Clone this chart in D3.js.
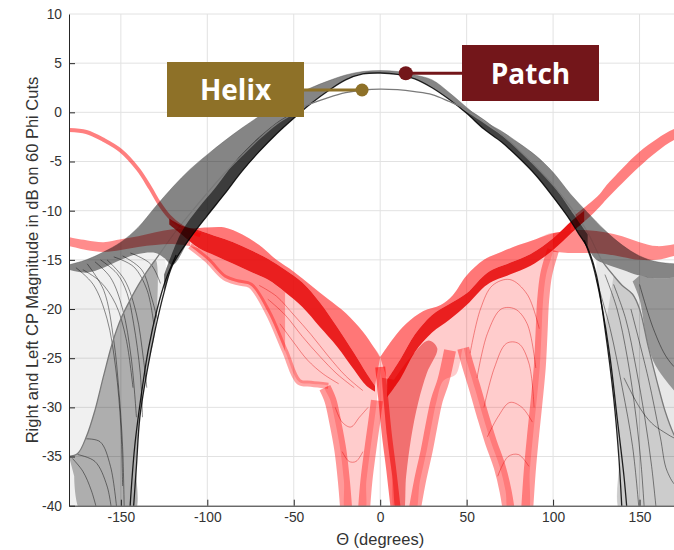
<!DOCTYPE html>
<html>
<head>
<meta charset="utf-8">
<script src="https://cdn.jsdelivr.net/npm/d3@7"></script>
<style>
  body { margin: 0; background: #fff; }
  svg { display: block; font-family: "Liberation Sans", Arial, sans-serif; }
</style>
</head>
<body>
<svg id="chart" width="674" height="550"></svg>
<script>
// ---------- axis ticks ----------
const thetaTicks = [-150, -100, -50, 0, 50, 100, 150];
const dbTicks = [-40, -35, -30, -25, -20, -15, -10, -5, 0, 5, 10];

// ---------- RHCP cuts: patch antenna ([theta deg, dB]) ----------
const patchWide = [[-180,-15.5],[-170,-15.0],[-160,-14.2],[-150,-13.2],[-140,-11.7],[-130,-9.6],[-120,-7.6],[-110,-5.8],[-100,-4.3],[-90,-2.9],[-80,-1.6],[-70,-0.4],[-60,0.8],[-50,1.7],[-40,2.5],[-30,3.2],[-20,3.8],[-10,4.15],[0,4.25],[10,4.15],[20,3.8],[30,3.3],[40,2.0],[50,0.5],[60,-0.9],[70,-1.9],[80,-3.1],[90,-4.4],[100,-6.1],[110,-8.3],[120,-10.2],[130,-12.0],[140,-13.5],[150,-14.6],[160,-15.2],[170,-15.4],[180,-15.5]];
const patchNarrow = [[-143,-41],[-141,-36],[-139,-31],[-135,-26.5],[-130,-22],[-125,-18.3],[-120,-15.5],[-110,-12.8],[-100,-10.5],[-90,-8.3],[-80,-6.0],[-70,-4.0],[-60,-2.2],[-50,-0.6],[-40,0.9],[-30,2.2],[-20,3.3],[-10,3.9],[0,4.0],[10,3.85],[20,3.4],[30,2.5],[40,1.3],[50,-0.1],[60,-1.7],[70,-3.0],[80,-4.6],[90,-6.4],[100,-8.6],[110,-11.0],[115,-12.4],[120,-13.8],[125,-16.5],[130,-22],[135,-29],[138,-35],[140,-41]];
const patchInnerLeft = [[-180,-16.0],[-170,-16.3],[-160,-15.8],[-150,-15.0],[-140,-14.4],[-130,-14.3],[-125,-14.8]];
const patchInnerRight = [[125,-15.0],[130,-15.4],[140,-16.0],[150,-16.6],[160,-16.9],[170,-16.8],[180,-16.5]];
const patchDenseLeft = [[-125,-16.5],[-115,-12.2],[-105,-9.7],[-95,-7.6],[-82,-4.6],[-66,-1.9],[-55,-0.5],[-45,0.2]];
const patchDenseRight = [[45,0.6],[60,-1.1],[75,-3.0],[92,-5.9],[100,-7.4],[110,-9.9],[120,-12.4]];
const patchShadeRight = [[146,-17.2],[150,-19],[154,-23],[158,-25.3],[164,-27],[170,-28.3],[176,-29.3],[180,-29.8]];
const patchNullLeft = [[-118,-14.5],[-124,-17],[-129,-20],[-134,-24],[-138,-28.5],[-142,-34],[-145,-41]];
const patchNullRight = [[118,-13.0],[123,-15.5],[128,-19.5],[133,-25],[137,-31],[141,-37],[143,-41]];
const patchArcs = [
  [[-161.8,-15.0],[-152.2,-16.4],[-146.4,-18.4],[-142.6,-21.5],[-138.8,-26.5],[-137.5,-31]],
  [[-154.1,-14.7],[-142.6,-15.7],[-134.8,-18.1],[-131,-21.5]],
  [[-144.5,-14.3],[-132.9,-15.4],[-127.1,-17.4]],
  [[-149,-14.6],[-138,-16],[-132,-19],[-129,-21]],
  [[-158,-15.0],[-148,-17],[-141,-20.5],[-137,-25],[-135,-28]],
  [[-165,-15.2],[-156,-16.8],[-149,-20],[-144,-25],[-141,-31]],
  [[-169.5,-15.4],[-159.9,-18.1],[-154.1,-23.2],[-151.2,-28.2],[-149,-34],[-148,-41]],
  [[-176,-15.8],[-166,-17.5],[-158,-21],[-153,-26],[-150,-32],[-149,-38]],
  [[-172,-16],[-162,-17.2],[-153,-19.5],[-147,-23],[-143,-28]],
  [[125,-17],[133,-22],[140,-28],[146,-34],[150,-41]],
  [[130,-16.5],[137,-20],[143,-25],[148,-31],[151,-36],[153,-41]],
  [[135,-17.5],[142,-21],[148,-26],[153,-31],[157,-36],[160,-41]],
  [[141,-27],[150,-30],[157,-31.6],[164,-32.5],[172,-33.3],[180,-33.8]],
  [[145,-20],[155,-27],[162,-33],[166,-36.5],[172,-38],[180,-37]],
  [[150,-17.5],[158,-22],[166,-25],[174,-26.5],[180,-27]]
];

// ---------- RHCP cut: helix antenna ----------
const helixCut = [[-180,-35],[-175,-34.7],[-170,-33],[-165,-30.3],[-160,-26.8],[-155,-23.5],[-150,-21],[-145,-19.2],[-140,-17.6],[-135,-16.2],[-130,-15],[-120,-12.5],[-110,-10.3],[-100,-8.2],[-90,-6.2],[-80,-4.4],[-70,-2.7],[-60,-1.2],[-50,-0.1],[-44,0.6],[-30,1.5],[-20,2.0],[-10,2.27],[0,2.37],[10,2.3],[20,2.1],[30,1.8],[40,1.1],[50,0.3],[60,-0.8],[70,-2.2],[80,-3.8],[90,-5.5],[100,-7.4],[110,-9.6],[120,-12.2],[128,-15],[135,-16.6],[140,-17.6],[146,-18.5],[150,-20],[155,-23.8],[160,-27.3],[165,-30.5],[170,-32.8],[175,-34.3],[180,-35]];
const helixFan = [
  [[-178,-35.2],[-172,-36.5],[-167,-38.5],[-163,-41]],
  [[-175,-34.8],[-165,-35.5],[-158,-38],[-155,-41]],
  [[-170,-33.2],[-162,-33.5],[-156,-36],[-152,-41]]
];

// ---------- LHCP cuts ----------
const redThinLeft = [[-180,-1.8],[-170,-2.0],[-160,-2.8],[-150,-3.9],[-140,-5.8],[-133,-7.7],[-128,-9.2],[-122,-10.6],[-116,-11.5],[-110,-12.1],[-104,-12.5]];
const redThinRightUpper = [[113,-10.4],[120,-9.4],[127,-8.3],[131,-7.4],[140,-5.7],[150,-4.0],[160,-2.7],[170,-1.7],[180,-1.3]];
const redThinRightLower = [[113,-11.8],[120,-10.8],[127,-9.6],[131,-8.8],[140,-7.2],[150,-5.5],[160,-4.0],[170,-2.8],[180,-2.3]];
const redEnvelopeLeft = [[-180,-12.7],[-170,-13.0],[-160,-13.2],[-150,-12.9],[-140,-12.6],[-130,-12.2],[-120,-11.9],[-110,-11.8],[-100,-11.7],[-90,-11.7],[-80,-12.4],[-70,-13.5],[-60,-15.0],[-50,-16.2],[-40,-17.6],[-30,-19.0],[-20,-20.4],[-10,-22.3],[-4,-23.8],[0,-24.9]];
const redOuterLeftLower = [[-180,-13.6],[-170,-14.0],[-160,-14.2],[-150,-14.0],[-140,-13.7],[-130,-13.5],[-120,-13.4],[-110,-13.6]];
const redLobeLeftLower = [[-110,-13.6],[-100,-15.0],[-90,-16.8],[-82,-17.3],[-75,-17.6],[-65,-20.3],[-55,-24.3],[-47,-27.4],[-40,-27.6],[-30,-27.8]];
const redDenseLeftTop = [[-122,-10.8],[-115,-11.5],[-105,-12.0],[-95,-12.6],[-85,-13.2],[-75,-14.0],[-65,-14.9],[-55,-16.0],[-45,-17.3],[-35,-19.3],[-25,-21.8],[-15,-24.5],[-8,-26.5],[-3,-27.8]];
const redDenseLeftBottom = [[-122,-11.4],[-115,-12.4],[-105,-13.8],[-95,-14.6],[-85,-15.4],[-75,-16.2],[-65,-17.0],[-55,-18.3],[-45,-19.8],[-35,-21.8],[-25,-23.8],[-15,-26.2],[-8,-27.8],[-3,-28.4]];
const redEnvelopeRight = [[0,-24.9],[8,-22.9],[15,-21.5],[25,-20.2],[35,-19.6],[42,-18.6],[50,-16.6],[60,-15.0],[70,-14.2],[80,-13.5],[90,-12.9],[100,-12.3],[110,-12.0],[120,-12.0],[130,-12.2],[140,-12.6],[150,-13.2],[160,-13.6],[170,-13.4],[180,-13.0]];
const redOuterRightLower = [[100,-14.2],[110,-14.3],[120,-14.3],[130,-14.4],[140,-14.7],[150,-15.0],[160,-15.0],[170,-14.6],[180,-14.2]];
const redDenseRightTop = [[4,-27.2],[12,-25.0],[20,-22.6],[30,-20.6],[40,-19.5],[50,-18.4],[62,-16.3],[75,-15.3],[87,-14.4],[100,-12.8],[111,-11.0],[118,-10.0]];
const redDenseRightBottom = [[4,-29.0],[12,-27.0],[20,-24.4],[30,-22.4],[40,-21.1],[50,-19.6],[62,-17.5],[75,-16.5],[87,-15.6],[100,-14.0],[111,-12.2],[118,-11.1]];
const redNullAL = [[-32,-28.0],[-28.8,-29.3],[-26,-31.5],[-23,-34.4],[-21,-37.5],[-19.4,-41]];
const redNullAR = [[-1.9,-29.3],[-3.5,-31.5],[-5.8,-34.4],[-8,-37.5],[-9.6,-41]];
const redNullBL = [[0,-25.9],[2,-29.5],[3.8,-32.7],[6.5,-36.5],[9.4,-41]];
const redNullBR = [[40.4,-24.2],[36.5,-27.3],[32.7,-29.3],[29.5,-32],[26.9,-34.4],[23,-37.5],[19.4,-41]];
const redNullCL = [[48,-24],[50,-25.3],[55,-28.2],[59.6,-31],[64,-33.5],[69.2,-36.1],[72.5,-38.5],[74.8,-41]];
const redNullCR = [[100,-14.0],[96,-16.5],[94.2,-19.2],[93.3,-22.5],[92.3,-25.9],[90.5,-29.3],[88.5,-32.7],[86.5,-36.5],[84.8,-41]];
const redNullBDense = [[1,-27],[4,-33],[7,-37],[10,-41],[13,-41],[15,-37],[18,-33],[22,-29.5],[27,-26.5],[33,-24],[28,-23.2],[18,-24.8],[8,-27.2]];
const redTraces = [
  [[-70,-17.6],[-60,-18.7],[-50,-20.6],[-40,-22.6],[-30,-24.8],[-20,-26.8],[-10,-28.3]],
  [[-65,-19.0],[-55,-20.6],[-45,-22.8],[-35,-24.8],[-25,-26.6],[-15,-28.0]],
  [[-58,-21.5],[-50,-23.4],[-42,-25.2],[-33,-26.6],[-24,-27.6]],
  [[52,-24.5],[58,-20],[65,-17.6],[75,-17],[85,-18.5],[92,-22]],
  [[56,-27],[62,-22.5],[70,-20],[78,-20],[85,-21.5],[90,-26]],
  [[60,-30],[66,-26],[73,-23.5],[80,-23.5],[86,-25.5],[89,-30]],
  [[-26,-30],[-22,-31.5],[-17,-32],[-12,-31],[-7,-30]],
  [[-22,-34.5],[-18,-35.5],[-14,-35.5],[-10,-34.5]],
  [[62,-33],[68,-31],[75,-29.5],[82,-30],[88,-31.5]],
  [[68,-37],[74,-35],[80,-34.8],[86,-36]]
];

// ---------- markers ----------
const helixMarker = [-10.5, 2.27];
const patchMarker = [14.8, 3.97];

// ---------- scales ----------
const svg = d3.select("#chart");
const x = d3.scaleLinear().domain([-180, 180]).range([69, 691.4]);
const y = d3.scaleLinear().domain([-40, 10]).range([505.7, 14]);

const curve = d3.line().x(d => x(d[0])).y(d => y(d[1])).curve(d3.curveCatmullRom.alpha(0.5));
const between = (a, b) => curve(a) + "L" + curve(b.slice().reverse()).slice(1) + "Z";
const closed = pts => curve(pts) + "Z";
const within = (arr, lo, hi) => arr.filter(d => d[0] >= lo && d[0] <= hi);

// ---------- grid ----------
const grid = svg.append("g").attr("stroke", "#e2e2e2").attr("stroke-width", 1);
grid.selectAll("line.v").data(thetaTicks).join("line")
  .attr("x1", d => x(d)).attr("x2", d => x(d)).attr("y1", y(10)).attr("y2", y(-40));
grid.selectAll("line.h").data(dbTicks.filter(d => d > -40)).join("line")
  .attr("x1", x(-180)).attr("x2", x(180)).attr("y1", d => y(d)).attr("y2", d => y(d));

svg.append("clipPath").attr("id", "plotClip").append("rect")
  .attr("x", x(-180)).attr("y", y(10)).attr("width", x(180) - x(-180)).attr("height", y(-40) - y(10));

const plot = svg.append("g").attr("clip-path", "url(#plotClip)");

// ---------- RHCP (black) ----------
const gB = plot.append("g");
// spread of intermediate patch cuts near the back
gB.append("path").attr("fill", "#000").attr("fill-opacity", 0.06)
  .attr("d", closed([...patchInnerLeft, ...within(patchNarrow, -180, -125).reverse(), [-180, -41]]));
gB.append("path").attr("fill", "#000").attr("fill-opacity", 0.09)
  .attr("d", closed([...patchInnerRight, [180, -41], ...within(patchNarrow, 125, 180).reverse()]));
// helix back-lobe wedges
gB.append("path").attr("fill", "#000").attr("fill-opacity", 0.28)
  .attr("d", closed([...within(helixCut, -180, -130), ...within(patchNarrow, -180, -130).reverse(), [-172, -41], [-177, -37]]));
gB.append("path").attr("fill", "#000").attr("fill-opacity", 0.12)
  .attr("d", closed([...within(patchNarrow, 130, 180), [172, -41], [177, -37], ...within(helixCut, 130, 180).reverse()]));
gB.append("path").attr("fill", "#000").attr("fill-opacity", 0.35)
  .attr("d", between(within(patchInnerRight, 145, 180), patchShadeRight));
// main lobe band
gB.append("path").attr("fill", "#000").attr("fill-opacity", 0.48)
  .attr("d", between(patchWide, [...patchInnerLeft, ...within(patchNarrow, -120, 120), ...patchInnerRight]));
gB.append("path").attr("fill", "#000").attr("fill-opacity", 0.55)
  .attr("d", between(patchDenseLeft, within(patchNarrow, -125, -45)));
gB.append("path").attr("fill", "#000").attr("fill-opacity", 0.5)
  .attr("d", between(patchDenseRight, within(patchNarrow, 45, 120)));
// individual traces
const blackLines = gB.append("g").attr("fill", "none");
blackLines.selectAll("path.arc").data([...patchArcs, ...helixFan]).join("path")
  .attr("d", curve).attr("stroke", "#000").attr("stroke-opacity", 0.5).attr("stroke-width", 0.9);
blackLines.append("path").attr("d", curve(patchWide)).attr("stroke", "#555").attr("stroke-opacity", 0.4).attr("stroke-width", 1);
blackLines.selectAll("path.nl").data([patchNarrow, patchNullLeft, patchNullRight]).join("path")
  .attr("d", curve).attr("stroke", "#000").attr("stroke-opacity", 0.85).attr("stroke-width", 1.3);
blackLines.append("path").attr("d", curve(helixCut)).attr("stroke", "#7a7a7a").attr("stroke-width", 1.3);

// ---------- LHCP (red) ----------
const gR = plot.append("g").style("mix-blend-mode", "multiply");
const RED = "#ff0000";
// light areas covered by spread cuts
gR.append("path").attr("fill", RED).attr("fill-opacity", 0.2)
  .attr("d", closed([...within(redEnvelopeLeft, -110, 0), ...redNullAR, ...redNullAL.slice().reverse(), ...redLobeLeftLower.slice().reverse()]));
gR.append("path").attr("fill", RED).attr("fill-opacity", 0.2)
  .attr("d", closed([...within(redEnvelopeRight, 0, 100), ...redNullCR, ...redNullCL.slice().reverse(), [44, -26.6], ...redNullBR.slice(1), ...redNullBL.slice().reverse()]));
// pink below the dense band on the left
gR.append("path").attr("fill", RED).attr("fill-opacity", 0.3)
  .attr("d", between(within(redDenseLeftBottom, -110, -50), within(redLobeLeftLower, -110, -55)));
// outer bands
gR.append("path").attr("fill", RED).attr("fill-opacity", 0.45)
  .attr("d", between(within(redEnvelopeLeft, -180, -110), redOuterLeftLower));
gR.append("path").attr("fill", RED).attr("fill-opacity", 0.45)
  .attr("d", between(within(redEnvelopeRight, 100, 180), redOuterRightLower));
// pink upper regions above the dense traces
gR.append("path").attr("fill", RED).attr("fill-opacity", 0.42)
  .attr("d", between(within(redEnvelopeLeft, -110, 0), within(redDenseLeftTop, -110, 0)));
gR.append("path").attr("fill", RED).attr("fill-opacity", 0.42)
  .attr("d", between(within(redEnvelopeRight, 0, 110), within(redDenseRightTop, 0, 111)));
// walls of the nulls and lobe rim
const walls = gR.append("g").attr("fill", "none").attr("stroke", RED).attr("stroke-opacity", 0.4);
walls.selectAll("path").data([redNullAL, redNullAR, redNullBR, redNullCL, redNullCR]).join("path")
  .attr("d", curve).attr("stroke-width", 12);
walls.append("path").attr("d", curve(redNullBL)).attr("stroke-width", 10).attr("stroke-opacity", 0.55);
walls.append("path").attr("d", curve(redLobeLeftLower)).attr("stroke-width", 6).attr("stroke-opacity", 0.35);
gR.append("path").attr("fill", "#e00000").attr("fill-opacity", 0.45).attr("d", closed(redNullBDense));
// thin individual traces
gR.append("g").attr("fill", "none").attr("stroke", "#e00000").attr("stroke-opacity", 0.45).attr("stroke-width", 0.9)
  .selectAll("path").data(redTraces).join("path").attr("d", curve);
// dense traces
gR.append("path").attr("fill", "#e60000").attr("fill-opacity", 0.85)
  .attr("d", between(redDenseLeftTop, redDenseLeftBottom));
gR.append("path").attr("fill", "#e60000").attr("fill-opacity", 0.85)
  .attr("d", between(redDenseRightTop, redDenseRightBottom));
gR.append("path").attr("fill", RED).attr("fill-opacity", 0.5)
  .attr("d", between(redThinRightUpper, redThinRightLower));
gR.append("path").attr("fill", "none").attr("stroke", RED).attr("stroke-opacity", 0.5).attr("stroke-width", 4)
  .attr("d", curve(redThinLeft));

// ---------- axes ----------
const axisColor = "#262626";
const xAxis = svg.append("g").attr("transform", `translate(0,${y(-40)})`)
  .call(d3.axisBottom(x).tickValues(thetaTicks).tickFormat(d => String(d)).tickSizeInner(-6).tickSizeOuter(0).tickPadding(7));
const yAxis = svg.append("g").attr("transform", `translate(${x(-180)},0)`)
  .call(d3.axisLeft(y).tickValues(dbTicks).tickFormat(d => String(d)).tickSizeInner(-6).tickSizeOuter(0).tickPadding(7));
[xAxis, yAxis].forEach(a => {
  a.select(".domain").attr("stroke", axisColor);
  a.selectAll(".tick line").attr("stroke", axisColor);
  a.selectAll(".tick text").attr("fill", "#333").style("font-size", "13.8px").style("font-family", '"Liberation Sans", Arial, sans-serif');
});
yAxis.selectAll(".tick").filter(d => d === 10).select("line").remove();

svg.append("text").attr("x", x(0)).attr("y", 545).attr("text-anchor", "middle")
  .attr("fill", "#333").style("font-size", "16.5px").text("Θ (degrees)");
svg.append("text").attr("transform", "translate(38,260) rotate(-90)").attr("text-anchor", "middle")
  .attr("fill", "#333").style("font-size", "16.5px").text("Right and Left CP Magnitude in dB on 60 Phi Cuts");

// ---------- annotations ----------
const helixColor = "#8e7128", patchColor = "#73161a";
const ann = svg.append("g");
ann.append("line").attr("x1", 304).attr("y1", y(helixMarker[1])).attr("x2", x(helixMarker[0])).attr("y2", y(helixMarker[1]))
  .attr("stroke", helixColor).attr("stroke-width", 3);
ann.append("circle").attr("cx", x(helixMarker[0])).attr("cy", y(helixMarker[1])).attr("r", 6.5).attr("fill", helixColor);
ann.append("rect").attr("x", 167).attr("y", 62).attr("width", 137).attr("height", 55).attr("fill", helixColor);
ann.append("text").attr("x", 235.5).attr("y", 100).attr("text-anchor", "middle").attr("fill", "#fff")
  .style("font-family", '"Open Sans", "Noto Sans", sans-serif').style("font-weight", 700).style("font-size", "28px").text("Helix");

ann.append("line").attr("x1", x(patchMarker[0])).attr("y1", y(patchMarker[1])).attr("x2", 462).attr("y2", y(patchMarker[1]))
  .attr("stroke", patchColor).attr("stroke-width", 3);
ann.append("circle").attr("cx", x(patchMarker[0])).attr("cy", y(patchMarker[1])).attr("r", 7).attr("fill", patchColor);
ann.append("rect").attr("x", 462).attr("y", 45).attr("width", 137).attr("height", 56).attr("fill", patchColor);
ann.append("text").attr("x", 530.5).attr("y", 84).attr("text-anchor", "middle").attr("fill", "#fff")
  .style("font-family", '"Open Sans", "Noto Sans", sans-serif').style("font-weight", 700).style("font-size", "28px").text("Patch");
</script>
</body>
</html>
